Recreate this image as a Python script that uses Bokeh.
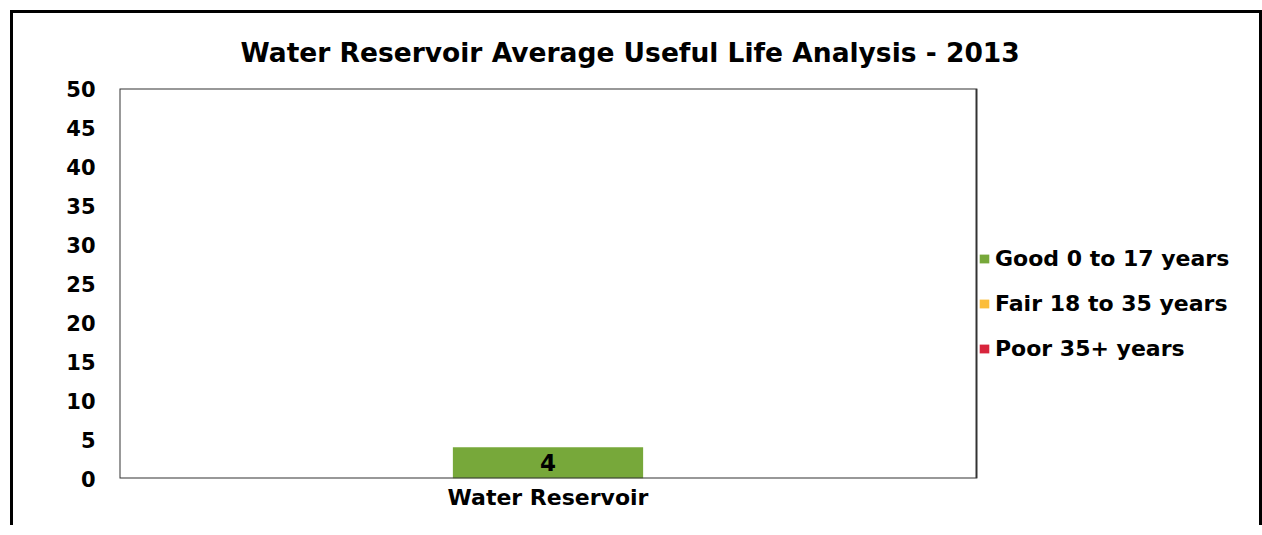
from bokeh.plotting import figure
from bokeh.models import (ColumnDataSource, Range1d, Legend, LegendItem, LabelSet,
                          FixedTicker, Title, BoxAnnotation)
from bokeh.core.properties import value
from bokeh.embed import file_html
from bokeh.resources import INLINE

categories = ["Water Reservoir"]
good = [4]
fair = [0]
poor = [0]
series_names = ["Good 0 to 17 years", "Fair 18 to 35 years", "Poor 35+ years"]
series_colors = ["#77a83a", "#fbbd3a", "#d8243c"]
y_ticks = [0, 5, 10, 15, 20, 25, 30, 35, 40, 45, 50]
title_text = "Water Reservoir Average Useful Life Analysis - 2013"

FONT = "DejaVu Sans"

xpos = list(range(len(categories)))
src = ColumnDataSource(dict(x=xpos, good=good, fair=fair, poor=poor,
                            mid=[g / 2 for g in good], lbl=[str(g) for g in good]))

W, H = 1252, 515
ML, MR, MT, MB = 106, 8, 75, 50
BOX_PX = 857  # width of the visible plot box in pixels
frame_w = W - ML - MR
x_start = -0.5
x_end = x_start + frame_w / BOX_PX

p = figure(width=W, height=H, x_range=Range1d(x_start, x_end),
           y_range=Range1d(0, 50), output_backend="svg", toolbar_location=None,
           min_border_left=ML, min_border_right=MR, min_border_top=MT,
           min_border_bottom=MB)
p.background_fill_color = "white"
p.border_fill_color = "white"
p.outline_line_color = None
p.grid.grid_line_color = None

box = BoxAnnotation(left=-0.5, right=0.5, bottom=0, top=50, fill_alpha=0,
                    line_color="#333333", line_alpha=1.0, line_width=2)
p.add_layout(box)

renderers = p.vbar_stack(["good", "fair", "poor"], x="x", width=0.222, source=src,
                         color=series_colors, line_color=None)

labels = LabelSet(x="x", y="mid", text="lbl", source=src, text_align="center",
                  text_baseline="middle", text_font=value(FONT), text_font_style="bold",
                  text_font_size="23px", text_color="black")
p.add_layout(labels)

p.yaxis.ticker = FixedTicker(ticks=y_ticks)
p.yaxis.axis_line_color = None
p.yaxis.major_tick_line_color = None
p.yaxis.minor_tick_line_color = None
p.yaxis.major_label_text_font = FONT
p.yaxis.major_label_text_font_style = "bold"
p.yaxis.major_label_text_font_size = "21px"
p.yaxis.major_label_text_color = "black"
p.yaxis.major_label_standoff = 18

p.xaxis.ticker = FixedTicker(ticks=xpos)
p.xaxis.major_label_overrides = {i: c for i, c in zip(xpos, categories)}
p.xaxis.axis_line_color = None
p.xaxis.major_tick_line_color = None
p.xaxis.minor_tick_line_color = None
p.xaxis.major_label_text_font = FONT
p.xaxis.major_label_text_font_style = "bold"
p.xaxis.major_label_text_font_size = "22px"
p.xaxis.major_label_text_color = "black"
p.xaxis.major_label_standoff = 0

legend = Legend(items=[LegendItem(label=n, renderers=[r]) for n, r in zip(series_names, renderers)],
                location=(859, 117), orientation="vertical")
legend.border_line_color = None
legend.background_fill_alpha = 0
legend.label_text_font = FONT
legend.label_text_font_style = "bold"
legend.label_text_font_size = "22px"
legend.label_text_color = "black"
legend.glyph_width = 12
legend.glyph_height = 11
legend.label_height = 26
legend.label_standoff = 5
legend.spacing = 19
legend.padding = 0
legend.margin = 0
p.add_layout(legend, "center")

p.title = Title(text=title_text, align="left", offset=121, standoff=41,
                text_font=FONT, text_font_style="bold", text_font_size="26.5px",
                text_color="black")

p.styles = {"margin-left": "10px", "margin-top": "10px",
            "border-left": "3px solid black", "border-top": "3px solid black",
            "border-right": "3px solid black"}

open("out.html", "w").write(file_html(p, INLINE))
